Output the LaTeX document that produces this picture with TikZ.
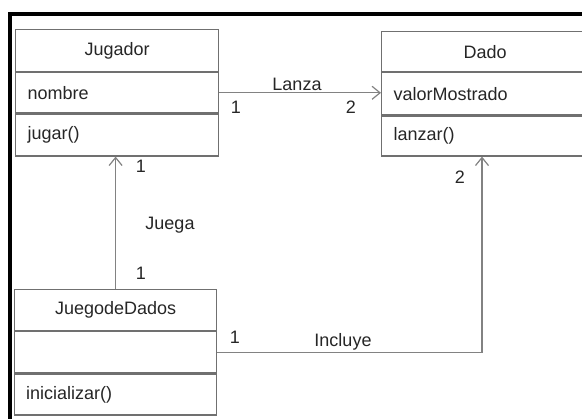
\documentclass[tikz,border=0pt]{standalone}
\usepackage{fontspec}
\setmainfont{Liberation Sans}
\usetikzlibrary{arrows.meta,calc}
\definecolor{ink}{HTML}{262626}
\definecolor{rule}{HTML}{707070}
\definecolor{wire}{HTML}{828282}
\tikzset{
  txt/.style={text=ink, font=\fontsize{18}{21}\selectfont},
  part/.style={txt, draw=rule, line width=1.2pt, inner sep=0pt, anchor=north},
  head/.style={part, align=center},
  slot/.style={part, align=left},
  wide/.style={minimum width=203pt, text width=179pt},
  wider/.style={minimum width=207pt, text width=183pt},
  conn/.style={draw=wire, line width=1.2pt},
  nav/.style={conn, -{Straight Barb[length=8pt,width=13pt,line width=1.2pt]}},
  lbl/.style={txt, inner sep=0pt},
  frame/.style={draw=black, line width=3.2pt, line join=miter}
}
\begin{document}
\begin{tikzpicture}[x=1pt,y=-1pt]
  \useasboundingbox (0,0) rectangle (582,419);
  \clip (0,0) rectangle (582,419);

  % outer frame (top and left edges)
  \draw[frame] (10,421) -- (10,14) -- (584,14);

  % class Jugador
  \node[head, wide, minimum height=42pt, anchor=north west] (jug) at (15,29) {Jugador};
  \node[slot, wide, minimum height=40pt] (jugA) at (jug.south) {nombre};
  \node[slot, wide, minimum height=42pt] (jugM) at (jugA.south) {jugar()};

  % class Dado
  \node[head, wider, minimum height=40pt, anchor=north west] (dado) at (381,31) {Dado};
  \node[slot, wider, minimum height=42pt] (dadoA) at (dado.south) {valorMostrado};
  \node[slot, wider, minimum height=40pt] (dadoM) at (dadoA.south) {lanzar()};

  % class JuegodeDados
  \node[head, wide, minimum width=202pt, minimum height=41pt, anchor=north west] (jdd) at (14,289) {JuegodeDados};
  \node[slot, wide, minimum width=202pt, minimum height=41pt] (jddA) at (jdd.south) {};
  \node[slot, wide, minimum width=202pt, minimum height=41pt] (jddM) at (jddA.south) {inicializar()};

  % associations
  \draw[nav] (jugA.east) -- (jugA.east -| dadoA.west);
  \draw[nav] (jdd.north) -- (jdd.north |- jugM.south);
  \coordinate (dadoIn) at ($(dadoM.south west)+(101,0)$);
  \draw[nav] (jddA.east) -| (dadoIn);

  % association names and multiplicities
  \node[lbl] (lanza) at (297,84) {Lanza};
  \node[lbl] (lanzaA) at (236,107) {1};
  \node[lbl] (lanzaB) at (351,107) {2};
  \node[lbl] (juega) at (170,225) {Juega};
  \node[lbl] (juegaA) at (141,166) {1};
  \node[lbl] (juegaB) at (141,273) {1};
  \node[lbl] (incluye) at (343,342) {Incluye};
  \node[lbl] (incluyeA) at (235,337) {1};
  \node[lbl] (incluyeB) at (460,177) {2};
\end{tikzpicture}
\end{document}
